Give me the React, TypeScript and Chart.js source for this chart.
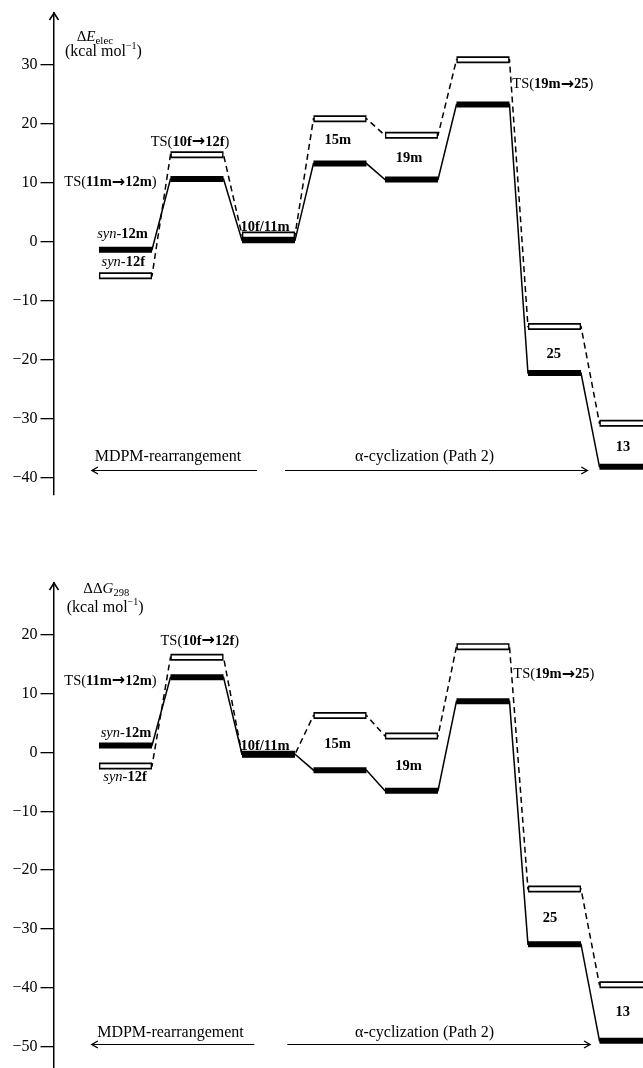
import React, { useEffect, useRef } from 'react';
import { Chart, registerables } from 'chart.js';

Chart.register(...registerables);

// ---------------- data ----------------
const stages = ['syn-12', 'TS(11m→12m) / TS(10f→12f)', '10f/11m', '15m', '19m', 'TS(19m→25)', '25', '13'];
// solid (black) levels and open (white) levels, kcal/mol
const elecSolid = [-1.4, 10.6, 0.2, 13.2, 10.5, 23.2, -22.3, -38.2];
const elecOpen = [-5.8, 14.7, 1.1, 20.8, 18.0, 30.8, -14.4, -30.8];
const gibbsSolid = [1.2, 12.8, -0.3, -3.0, -6.5, 8.7, -32.6, -49.0];
const gibbsOpen = [-2.3, 16.2, -0.3, 6.3, 2.8, 18.0, -23.2, -39.5];
const elecTicks = [30, 20, 10, 0, -10, -20, -30, -40];
const gibbsTicks = [20, 10, 0, -10, -20, -30, -40, -50];

// ---------------- styles ----------------
const SERIF = '"Liberation Serif", "Times New Roman", "DejaVu Serif", serif';
const LS = 14.5;
const fR = `${LS}px ${SERIF}`;
const fB = `bold ${LS}px ${SERIF}`;
const fI = `italic ${LS}px ${SERIF}`;
const fArrow = `bold 16px "DejaVu Sans", sans-serif`;
const f16 = `16px ${SERIF}`;
const HW = 0.371; // half width of a level (in stage units)
const HW_IN = HW - 0.019; // inner white part of an open level

type Seg = { t: string; f: string; dy?: number };
type Label = { segs: Seg[]; x: number; y: number; align: 'left' | 'center' | 'right' };
type Arrow = { x1: number; x2: number; y: number };

const ts = (a: string, b: string): Seg[] => [
  { t: 'TS(', f: fR },
  { t: a, f: fB },
  { t: '→', f: fArrow, dy: 0.5 },
  { t: b, f: fB },
  { t: ')', f: fR },
];
const syn = (b: string): Seg[] => [
  { t: 'syn', f: fI },
  { t: '-', f: fR },
  { t: b, f: fB },
];
const bold = (t: string): Seg[] => [{ t, f: fB }];
const plain = (t: string): Seg[] => [{ t, f: f16 }];
const kcal: Seg[] = [
  { t: '(kcal mol', f: f16 },
  { t: '−1', f: `10px ${SERIF}`, dy: -7 },
  { t: ')', f: f16 },
];

const topLabels: Label[] = [
  { segs: [{ t: 'Δ', f: `15px ${SERIF}` }, { t: 'E', f: `italic 15px ${SERIF}` }, { t: 'elec', f: `11px ${SERIF}`, dy: 3 }], x: -0.683, y: 34.0, align: 'left' },
  { segs: kcal, x: -0.846, y: 31.5, align: 'left' },
  { segs: ts('10f', '12f'), x: 0.902, y: 16.2, align: 'center' },
  { segs: ts('11m', '12m'), x: 0.436, y: 9.4, align: 'right' },
  { segs: syn('12m'), x: -0.042, y: 0.6, align: 'center' },
  { segs: syn('12f'), x: -0.031, y: -4.2, align: 'center' },
  { segs: bold('10f/11m'), x: 1.951, y: 1.8, align: 'center' },
  { segs: bold('15m'), x: 2.969, y: 16.6, align: 'center' },
  { segs: bold('19m'), x: 3.965, y: 13.5, align: 'center' },
  { segs: ts('19m', '25'), x: 5.41, y: 26.0, align: 'left' },
  { segs: bold('25'), x: 5.99, y: -19.7, align: 'center' },
  { segs: bold('13'), x: 6.958, y: -35.5, align: 'center' },
  { segs: plain('MDPM-rearrangement'), x: 0.594, y: -37.2, align: 'center' },
  { segs: plain('α-cyclization (Path 2)'), x: 4.182, y: -37.2, align: 'center' },
];
const topArrows: Arrow[] = [
  { x1: 1.839, x2: -0.469, y: -38.7 },
  { x1: 2.231, x2: 6.459, y: -38.7 },
];

const botLabels: Label[] = [
  { segs: [{ t: 'ΔΔ', f: `15px ${SERIF}` }, { t: 'G', f: `italic 15px ${SERIF}` }, { t: '298', f: `10.5px ${SERIF}`, dy: 3 }], x: -0.59, y: 27.1, align: 'left' },
  { segs: kcal, x: -0.822, y: 23.9, align: 'left' },
  { segs: ts('10f', '12f'), x: 1.039, y: 18.3, align: 'center' },
  { segs: ts('11m', '12m'), x: 0.436, y: 11.5, align: 'right' },
  { segs: syn('12m'), x: 0.007, y: 2.7, align: 'center' },
  { segs: syn('12f'), x: -0.007, y: -4.8, align: 'center' },
  { segs: bold('10f/11m'), x: 1.951, y: 0.5, align: 'center' },
  { segs: bold('15m'), x: 2.965, y: 0.7, align: 'center' },
  { segs: bold('19m'), x: 3.958, y: -3.0, align: 'center' },
  { segs: ts('19m', '25'), x: 5.424, y: 12.6, align: 'left' },
  { segs: bold('25'), x: 5.937, y: -28.8, align: 'center' },
  { segs: bold('13'), x: 6.954, y: -44.8, align: 'center' },
  { segs: plain('MDPM-rearrangement'), x: 0.629, y: -48.3, align: 'center' },
  { segs: plain('α-cyclization (Path 2)'), x: 4.182, y: -48.3, align: 'center' },
];
const botArrows: Arrow[] = [
  { x1: 1.801, x2: -0.471, y: -49.6 },
  { x1: 2.263, x2: 6.497, y: -49.6 },
];

// ---------------- helpers ----------------
function levelPoints(vals: number[], hw: number) {
  const pts: { x: number; y: number | null }[] = [];
  vals.forEach((v, i) => {
    if (i > 0) pts.push({ x: i - 0.5, y: null });
    pts.push({ x: i - hw, y: v }, { x: i + hw, y: v });
  });
  return pts;
}
function pathPoints(vals: number[]) {
  const pts: { x: number; y: number }[] = [];
  vals.forEach((v, i) => {
    pts.push({ x: i - HW, y: v }, { x: i + HW, y: v });
  });
  return pts;
}

function drawRich(ctx: CanvasRenderingContext2D, segs: Seg[], x: number, y: number, align: string) {
  const widths = segs.map((s) => {
    ctx.font = s.f;
    return ctx.measureText(s.t).width;
  });
  const total = widths.reduce((a, b) => a + b, 0);
  let cx = align === 'left' ? x : align === 'right' ? x - total : x - total / 2;
  ctx.textAlign = 'left';
  ctx.textBaseline = 'alphabetic';
  segs.forEach((s, i) => {
    ctx.font = s.f;
    ctx.fillText(s.t, cx, y + (s.dy || 0));
    cx += widths[i];
  });
}

const fmt = (v: number) => (v < 0 ? '−' + Math.abs(v) : String(v));

function makeChart(
  canvas: HTMLCanvasElement,
  solid: number[],
  open: number[],
  ticks: number[],
  yMin: number,
  yMax: number,
  padTop: number,
  padBottom: number,
  labels: Label[],
  arrows: Arrow[]
) {
  const line = { pointRadius: 0, pointHoverRadius: 0, tension: 0, fill: false, spanGaps: false, borderCapStyle: 'butt' as const };
  const annot = {
    id: 'annot',
    afterDraw(chart: any) {
      const { ctx, chartArea } = chart;
      const xs = chart.scales.x;
      const ys = chart.scales.y;
      ctx.save();
      ctx.strokeStyle = '#000';
      ctx.fillStyle = '#000';
      // arrow head of the y axis
      const ax = chartArea.left;
      const ay = chartArea.top;
      ctx.lineWidth = 1.5;
      ctx.beginPath();
      ctx.moveTo(ax - 4.5, ay + 7);
      ctx.lineTo(ax, ay);
      ctx.lineTo(ax + 4.5, ay + 7);
      ctx.stroke();
      // labels
      labels.forEach((l) => drawRich(ctx, l.segs, xs.getPixelForValue(l.x), ys.getPixelForValue(l.y), l.align));
      // process arrows
      arrows.forEach((a) => {
        const x1 = xs.getPixelForValue(a.x1);
        const x2 = xs.getPixelForValue(a.x2);
        const yy = Math.round(ys.getPixelForValue(a.y)) + 0.5;
        const dir = x2 > x1 ? 1 : -1;
        ctx.lineWidth = 1;
        ctx.beginPath();
        ctx.moveTo(x1, yy);
        ctx.lineTo(x2, yy);
        ctx.stroke();
        ctx.lineWidth = 1.4;
        ctx.beginPath();
        ctx.moveTo(x2 - dir * 6, yy - 3.5);
        ctx.lineTo(x2, yy);
        ctx.lineTo(x2 - dir * 6, yy + 3.5);
        ctx.stroke();
      });
      ctx.restore();
    },
  };

  return new Chart(canvas, {
    type: 'line',
    data: {
      labels: stages,
      datasets: [
        { ...line, label: 'solid levels', data: levelPoints(solid, HW) as any, borderColor: '#000', borderWidth: 6, order: 0 },
        { ...line, label: 'open levels (inner)', data: levelPoints(open, HW_IN) as any, borderColor: '#fff', borderWidth: 3.6, order: 1 },
        { ...line, label: 'open levels', data: levelPoints(open, HW) as any, borderColor: '#000', borderWidth: 7, order: 2 },
        { ...line, label: 'solid path', data: pathPoints(solid) as any, borderColor: '#000', borderWidth: 1.5, order: 3 },
        { ...line, label: 'dashed path', data: pathPoints(open) as any, borderColor: '#000', borderWidth: 1.5, borderDash: [6, 4], order: 4 },
      ],
    },
    options: {
      responsive: false,
      animation: false,
      events: [],
      layout: { padding: { top: padTop, bottom: padBottom, left: 0, right: 0 } },
      plugins: { legend: { display: false }, tooltip: { enabled: false }, title: { display: false } },
      scales: {
        x: { type: 'linear', display: false, min: -1, max: 7.238 },
        y: {
          type: 'linear',
          position: 'left',
          min: yMin,
          max: yMax,
          afterBuildTicks: (s: any) => {
            s.ticks = ticks.map((v) => ({ value: v }));
          },
          afterFit: (s: any) => {
            s.width = 54;
            s.paddingTop = 0;
            s.paddingBottom = 0;
          },
          ticks: {
            autoSkip: false,
            padding: 3,
            color: '#000',
            font: { family: SERIF, size: 16 },
            callback: (v: any) => fmt(Number(v)),
          },
          grid: { drawOnChartArea: false, drawTicks: true, tickLength: 13.5, color: '#000', lineWidth: 1.3 },
          border: { display: true, color: '#000', width: 1.5 },
        },
      },
    },
    plugins: [annot],
  } as any);
}

export default function App() {
  const topRef = useRef<HTMLCanvasElement>(null);
  const botRef = useRef<HTMLCanvasElement>(null);
  useEffect(() => {
    const a = makeChart(topRef.current!, elecSolid, elecOpen, elecTicks, -42.97, 38.73, 13, 39, topLabels, topArrows);
    const b = makeChart(botRef.current!, gibbsSolid, gibbsOpen, gibbsTicks, -53.65, 28.82, 49, 0, botLabels, botArrows);
    return () => {
      a.destroy();
      b.destroy();
    };
  }, []);
  return (
    <div style={{ position: 'absolute', left: 0, top: 0, width: 643, height: 1068, background: '#fff', overflow: 'hidden' }}>
      <canvas ref={topRef} width={643} height={534} style={{ display: 'block' }} />
      <canvas ref={botRef} width={643} height={534} style={{ display: 'block' }} />
    </div>
  );
}
